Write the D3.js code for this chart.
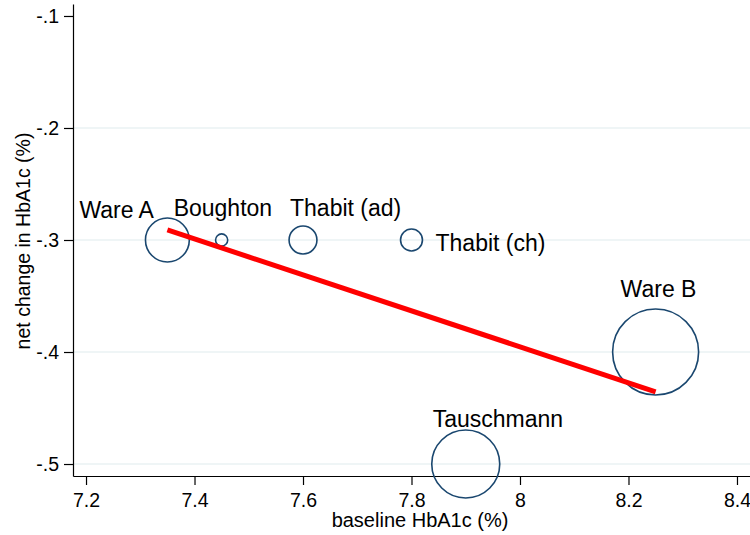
<!DOCTYPE html>
<html>
<head>
<meta charset="utf-8">
<script src="https://cdn.jsdelivr.net/npm/d3@7"></script>
<style>
  body { margin: 0; background: #fff; }
  text { font-family: "Liberation Sans", Arial, sans-serif; }
</style>
</head>
<body>
<div id="chart"></div>
<script>
// study data
const studies = ['Ware A', 'Boughton', 'Thabit (ad)', 'Thabit (ch)', 'Ware B', 'Tauschmann'];
const baseline = [7.35, 7.45, 7.6, 7.8, 8.25, 7.9];
const netChange = [-0.3, -0.3, -0.3, -0.3, -0.4, -0.5];
const weights = [26, 2, 10.5, 6.5, 100, 62.5];

// fitted meta-regression line
const fitX = [7.35, 8.25];
const fitY = [-0.291, -0.4355];

const xTicks = [7.2, 7.4, 7.6, 7.8, 8, 8.2, 8.4];
const yTicks = [-0.1, -0.2, -0.3, -0.4, -0.5];

// label nudges (start of text, baseline) relative to bubble centre
const labelNudge = [[-88, -22], [-48, -24], [-13, -24], [24, 11], [-35, -55], [-33, -37]];

const width = 750, height = 535;
const margin = {left: 73, right: 0, top: 4, bottom: 59};

const svg = d3.select('#chart')
  .append('svg')
  .attr('width', width)
  .attr('height', height);

const x = d3.scaleLinear()
  .domain([7.176, 8.424])
  .range([margin.left, width - margin.right]);

const y = d3.scaleLinear()
  .domain([-0.5107, -0.0893])
  .range([height - margin.bottom, margin.top]);

const r = d3.scaleSqrt()
  .domain([0, d3.max(weights)])
  .range([0, 43]);

// gridlines
svg.append('g')
  .selectAll('line')
  .data(yTicks.filter(d => d < -0.15))
  .enter()
  .append('line')
  .attr('x1', margin.left)
  .attr('x2', width)
  .attr('y1', d => y(d))
  .attr('y2', d => y(d))
  .style('stroke', '#eaf2f3')
  .style('stroke-width', 1.5);

// axes
const xAxis = svg.append('g')
  .attr('transform', `translate(0,${height - margin.bottom})`)
  .call(d3.axisBottom(x).tickValues(xTicks).tickSize(9).tickSizeOuter(0)
    .tickFormat(d => d3.format('')(d)));

const yAxis = svg.append('g')
  .attr('transform', `translate(${margin.left},0)`)
  .call(d3.axisLeft(y).tickValues(yTicks).tickSize(9).tickSizeOuter(0)
    .tickFormat(d => d3.format('.1f')(d).replace(/[−-]0\./, '-.')));

[xAxis, yAxis].forEach(a => {
  a.select('.domain').style('stroke', '#000').style('stroke-width', 1.2);
  a.selectAll('.tick line').style('stroke', '#000').style('stroke-width', 1.2);
  a.selectAll('.tick text')
    .style('font-size', '19.5px')
    .style('font-family', '"Liberation Sans", Arial, sans-serif')
    .style('fill', '#000');
});
xAxis.selectAll('.tick text').attr('y', 31).attr('dy', 0);
yAxis.selectAll('.tick text').attr('dx', '-2px');

// axis titles
svg.append('text')
  .attr('x', 420)
  .attr('y', 527)
  .attr('text-anchor', 'middle')
  .style('font-size', '20px')
  .text('baseline HbA1c (%)');

svg.append('text')
  .attr('transform', `translate(30, 241) rotate(-90)`)
  .attr('text-anchor', 'middle')
  .style('font-size', '19.5px')
  .text('net change in HbA1c (%)');

// bubbles
const pts = studies.map((s, i) => ({
  name: s, bx: baseline[i], ny: netChange[i], w: weights[i], nudge: labelNudge[i]
}));

svg.append('g')
  .selectAll('circle')
  .data(pts)
  .enter()
  .append('circle')
  .attr('cx', d => x(d.bx))
  .attr('cy', d => y(d.ny))
  .attr('r', d => r(d.w))
  .style('fill', 'none')
  .style('stroke', '#1a476f')
  .style('stroke-width', 1.6);

// labels
svg.append('g')
  .selectAll('text')
  .data(pts)
  .enter()
  .append('text')
  .attr('x', d => x(d.bx) + d.nudge[0])
  .attr('y', d => y(d.ny) + d.nudge[1])
  .style('font-size', '23px')
  .style('fill', '#000')
  .text(d => d.name);

// fitted line
svg.append('line')
  .attr('x1', x(fitX[0]))
  .attr('y1', y(fitY[0]))
  .attr('x2', x(fitX[1]))
  .attr('y2', y(fitY[1]))
  .style('stroke', '#ff0000')
  .style('stroke-width', 5);
</script>
</body>
</html>
